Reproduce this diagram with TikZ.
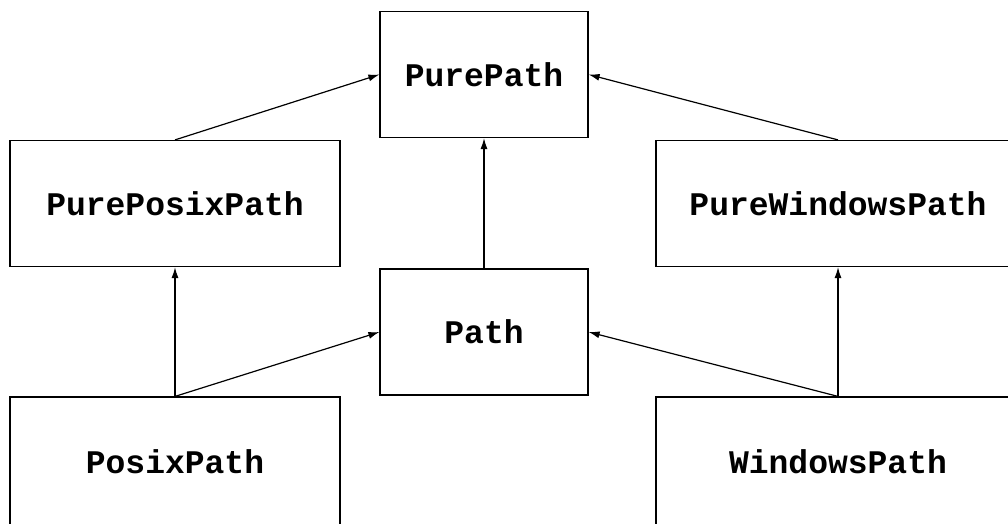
\documentclass[tikz,border=0pt]{standalone}
\usepackage{fontspec}
\setmonofont{Liberation Mono}
\usetikzlibrary{arrows.meta}

\begin{document}
\begin{tikzpicture}[x=1pt,y=-1pt,
        font=\ttfamily\bfseries\fontsize{33}{36}\selectfont,
        klasse/.style={draw, line width=1.2pt, rectangle, inner sep=0pt,
            minimum height=126pt, text depth=0pt},
        erbt/.style={-{Latex[length=11pt,width=7pt]}, line width=1.2pt}
        ]
            \useasboundingbox (0,0) rectangle (1008,523);
            \clip (0,0) rectangle (1008,523);

            % Klassen
            \node[klasse, minimum width=208pt] (PurePath)        at (484,74.5)  {PurePath};
            \node[klasse, minimum width=330pt] (PurePosixPath)   at (175,203.5) {PurePosixPath};
            \node[klasse, minimum width=364pt] (PureWindowsPath) at (838,203.5) {PureWindowsPath};
            \node[klasse, minimum width=208pt] (Path)            at (484,332)   {Path};
            % untere Reihe ragt ueber den Rand hinaus
            \node[klasse, minimum width=330pt, minimum height=140pt] (PosixPath)   at (175,467) {};
            \node[klasse, minimum width=364pt, minimum height=140pt] (WindowsPath) at (838,467) {};
            \node (PosixPathText)   at (175,462) {PosixPath};
            \node (WindowsPathText) at (838,462) {WindowsPath};

            % Vererbung
            \draw[erbt] (PurePosixPath.north)   -- (PurePath.west);
            \draw[erbt] (PureWindowsPath.north) -- (PurePath.east);
            \draw[erbt] (Path.north)            -- (PurePath.south);
            \draw[erbt] (PosixPath.north)       -- (PurePosixPath.south);
            \draw[erbt] (PosixPath.north)       -- (Path.west);
            \draw[erbt] (WindowsPath.north)     -- (Path.east);
            \draw[erbt] (WindowsPath.north)     -- (PureWindowsPath.south);
        \end{tikzpicture}
\end{document}
